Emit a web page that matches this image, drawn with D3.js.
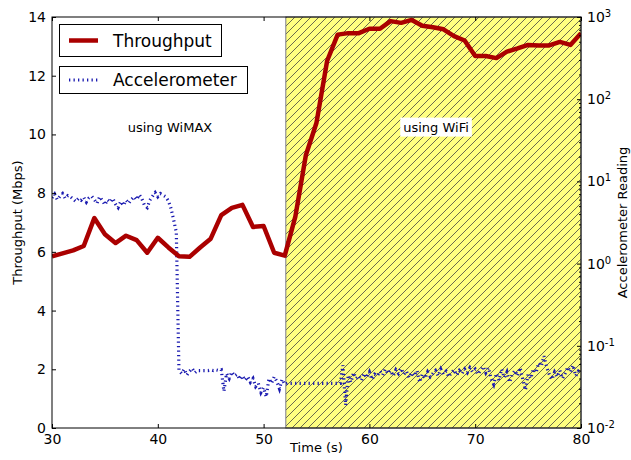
<!DOCTYPE html>
<html>
<head>
<meta charset="utf-8">
<script src="https://cdn.jsdelivr.net/npm/d3@7"></script>
<style>
  body { margin: 0; background: #fff; }
  text { font-family: "DejaVu Sans", sans-serif; fill: #000; }
</style>
</head>
<body>
<script>
// throughput, one sample per second
const tpTime = [30,31,32,33,34,35,36,37,38,39,40,41,42,43,44,45,46,47,48,49,50,
  51,52,53,54,55,56,57,58,59,60,61,62,63,64,65,66,67,68,69,70,
  71,72,73,74,75,76,77,78,79,80];
const tpValue = [5.85,5.95,6.05,6.2,7.15,6.6,6.3,6.55,6.4,5.97,6.48,6.15,5.85,5.83,6.15,6.45,7.25,7.5,7.6,6.85,6.88,
  5.97,5.87,7.2,9.3,10.4,12.5,13.4,13.45,13.45,13.6,13.6,13.86,13.8,13.9,13.7,13.65,13.58,13.35,13.2,12.67,
  12.67,12.6,12.82,12.93,13.05,13.03,13.03,13.15,13.05,13.45];

// accelerometer, four samples per second from 30 s
const accStart = 30, accStep = 0.25;
const accValue = [
  6.3,7.0,6.0,6.6, 7.1,6.2,6.7,6.5, 6.1,5.7,6.2,5.9, 6.4,5.6,6.3,6.6,
  6.0,5.4,6.5,5.9, 5.2,6.0,5.6,6.2, 5.3,4.8,5.7,5.1, 5.9,5.4,6.0,6.5,
  6.0,6.9,6.1,5.1, 4.8,5.9,6.6,7.3, 6.5,7.1,6.8,6.5, 5.8,4.7,3.4,2.4,
  0.050,0.046,0.052,0.044, 0.049,0.053,0.047,0.050, 0.050,0.050,0.050,0.050,
  0.051,0.050,0.051,0.050, 0.051,0.028,0.046,0.040, 0.048,0.043,0.045,0.039,
  0.043,0.038,0.042,0.036, 0.040,0.032,0.035,0.027, 0.031,0.024,0.040,0.035,
  0.042,0.037,0.030,0.039, 0.034,0.035,0.035,0.035, 0.035,0.035,0.035,0.035,
  0.035,0.035,0.035,0.035, 0.035,0.035,0.035,0.035, 0.035,0.035,0.035,0.035,
  0.035,0.035,0.058,0.019, 0.044,0.036,0.047,0.040, 0.043,0.038,0.046,0.041,
  0.048,0.039,0.045,0.043, 0.049,0.044,0.052,0.046, 0.050,0.043,0.051,0.046,
  0.053,0.045,0.049,0.041, 0.047,0.043,0.050,0.036, 0.045,0.040,0.048,0.042,
  0.046,0.050,0.043,0.052, 0.045,0.049,0.042,0.047, 0.051,0.044,0.050,0.046,
  0.052,0.047,0.054,0.048, 0.052,0.045,0.050,0.056, 0.047,0.054,0.040,0.034,
  0.046,0.038,0.052,0.041, 0.048,0.036,0.045,0.050, 0.043,0.054,0.039,0.029,
  0.045,0.040,0.052,0.047, 0.062,0.057,0.075,0.055, 0.045,0.039,0.048,0.042,
  0.050,0.040,0.046,0.055, 0.048,0.058,0.043,0.049, 0.046];

const xTicks = [30,40,50,60,70,80];
const yTicks = [0,2,4,6,8,10,12,14];
const rightTicks = [-2,-1,0,1,2,3];   // exponents of ten
const wifiStart = 52.1;
const notes = [
  {x: 41.15, y: 10.25, label: "using WiMAX", box: false},
  {x: 66.3, y: 10.25, label: "using WiFi", box: true}
];

const width = 631, height = 460;
const pLeft = 52, pRight = 581, pTop = 17, pBottom = 428;

const svg = d3.select("body").append("svg")
    .attr("width", width)
    .attr("height", height);

const x = d3.scaleLinear().domain([30, 80]).range([pLeft, pRight]);
const y = d3.scaleLinear().domain([0, 14]).range([pBottom, pTop]);
const yLog = d3.scaleLog().domain([1e-2, 1e3]).range([pBottom, pTop]);

const defs = svg.append("defs");
const hatch = defs.append("pattern")
    .attr("id", "hatch")
    .attr("patternUnits", "userSpaceOnUse")
    .attr("width", 8).attr("height", 8);
hatch.append("rect").attr("width", 8).attr("height", 8).attr("fill", "#ffff80");
hatch.append("path")
    .attr("d", "M-2,2 L2,-2 M0,8 L8,0 M6,10 L10,6")
    .attr("stroke", "#5a5a48").attr("stroke-width", 0.9);

defs.append("clipPath").attr("id", "plotclip")
  .append("rect")
    .attr("x", pLeft).attr("y", pTop)
    .attr("width", pRight - pLeft).attr("height", pBottom - pTop);

// wifi span
svg.append("rect")
    .attr("x", x(wifiStart)).attr("y", pTop)
    .attr("width", pRight - x(wifiStart)).attr("height", pBottom - pTop)
    .attr("fill", "url(#hatch)")
    .attr("stroke", "#7a7a8a").attr("stroke-width", 1);

// notes
notes.forEach(function(n) {
  var g = svg.append("g");
  var t = g.append("text")
      .attr("x", x(n.x)).attr("y", y(n.y))
      .attr("text-anchor", "middle")
      .attr("dominant-baseline", "central")
      .style("font-size", "13px")
      .text(n.label);
  if (n.box) {
    var bb = t.node().getBBox();
    g.insert("rect", "text")
        .attr("x", bb.x - 3).attr("y", bb.y - 2)
        .attr("width", bb.width + 6).attr("height", bb.height + 4)
        .attr("fill", "#fff");
  }
});

const plot = svg.append("g").attr("clip-path", "url(#plotclip)");

const accLine = d3.line()
    .x(function(d, i) { return x(accStart + i * accStep); })
    .y(function(d) { return yLog(d); });

plot.append("path")
    .datum(accValue)
    .attr("d", accLine)
    .attr("fill", "none")
    .attr("stroke", "#1a1ab0")
    .attr("stroke-width", 3.2)
    .attr("stroke-dasharray", "1.3,3.2");

const tpLine = d3.line()
    .x(function(d, i) { return x(tpTime[i]); })
    .y(function(d) { return y(d); });

plot.append("path")
    .datum(tpValue)
    .attr("d", tpLine)
    .attr("fill", "none")
    .attr("stroke", "#aa0000")
    .attr("stroke-width", 4.5)
    .attr("stroke-linejoin", "round");

// axes
svg.append("g")
    .attr("transform", "translate(0," + pBottom + ")")
    .call(d3.axisBottom(x).tickValues(xTicks).tickSizeInner(-4).tickSizeOuter(0).tickPadding(6))
    .call(function(g) { g.select(".domain").remove(); });

svg.append("g")
    .attr("transform", "translate(0," + pTop + ")")
    .call(d3.axisTop(x).tickValues(xTicks).tickSizeInner(-4).tickSizeOuter(0).tickFormat(""))
    .call(function(g) { g.select(".domain").remove(); });

svg.append("g")
    .attr("transform", "translate(" + pLeft + ",0)")
    .call(d3.axisLeft(y).tickValues(yTicks).tickSizeInner(-4).tickSizeOuter(0).tickPadding(6))
    .call(function(g) { g.select(".domain").remove(); });

var minor = [];
rightTicks.slice(0, -1).forEach(function(e) {
  for (var k = 2; k < 10; k++) minor.push(k * Math.pow(10, e));
});

svg.append("g")
    .attr("transform", "translate(" + pRight + ",0)")
    .call(d3.axisRight(yLog).tickValues(minor).tickSizeInner(-2).tickSizeOuter(0).tickFormat(""))
    .call(function(g) { g.select(".domain").remove(); });

const rAxis = svg.append("g")
    .attr("transform", "translate(" + pRight + ",0)")
    .call(d3.axisRight(yLog).tickValues(rightTicks.map(function(e) { return Math.pow(10, e); }))
      .tickSizeInner(-4).tickSizeOuter(0).tickPadding(6).tickFormat(""))
    .call(function(g) { g.select(".domain").remove(); });

rAxis.selectAll(".tick text").each(function(d) {
  var t = d3.select(this);
  var e = Math.round(Math.log10(d));
  t.append("tspan").text("10");
  t.append("tspan").attr("dy", "-0.5em").style("font-size", "10px").text(e);
});

svg.selectAll(".tick text").style("font-size", "14px").style("font-family", "DejaVu Sans, sans-serif");
svg.selectAll(".tick line").attr("stroke", "#000");

// frame
svg.append("rect")
    .attr("x", pLeft).attr("y", pTop)
    .attr("width", pRight - pLeft).attr("height", pBottom - pTop)
    .attr("fill", "none").attr("stroke", "#000").attr("stroke-width", 1);

// axis labels
svg.append("text")
    .attr("x", (pLeft + pRight) / 2).attr("y", 452)
    .attr("text-anchor", "middle")
    .style("font-size", "13px")
    .text("Time (s)");

svg.append("text")
    .attr("transform", "translate(22," + ((pTop + pBottom) / 2) + ") rotate(-90)")
    .attr("text-anchor", "middle")
    .style("font-size", "13px")
    .text("Throughput (Mbps)");

svg.append("text")
    .attr("transform", "translate(627," + ((pTop + pBottom) / 2) + ") rotate(-90)")
    .attr("text-anchor", "middle")
    .style("font-size", "13px")
    .text("Accelerometer Reading");

// legends, one box each
const legends = [
  {label: "Throughput", y0: 24, h: 32, w: 162, color: "#aa0000", sw: 4.5, dash: null},
  {label: "Accelerometer", y0: 66, h: 27, w: 188, color: "#1a1ab0", sw: 3.2, dash: "1.3,3.2"}
];

legends.forEach(function(l) {
  var g = svg.append("g");
  g.append("rect")
      .attr("x", 59.5).attr("y", l.y0 + 0.5)
      .attr("width", l.w).attr("height", l.h)
      .attr("fill", "#fff").attr("stroke", "#000");
  var cy = l.y0 + l.h / 2 + 0.5;
  g.append("line")
      .attr("x1", 69).attr("x2", 98)
      .attr("y1", cy).attr("y2", cy)
      .attr("stroke", l.color).attr("stroke-width", l.sw)
      .attr("stroke-dasharray", l.dash);
  g.append("text")
      .attr("x", 113).attr("y", cy)
      .attr("dominant-baseline", "central")
      .style("font-size", "17px")
      .text(l.label);
});
</script>
</body>
</html>
